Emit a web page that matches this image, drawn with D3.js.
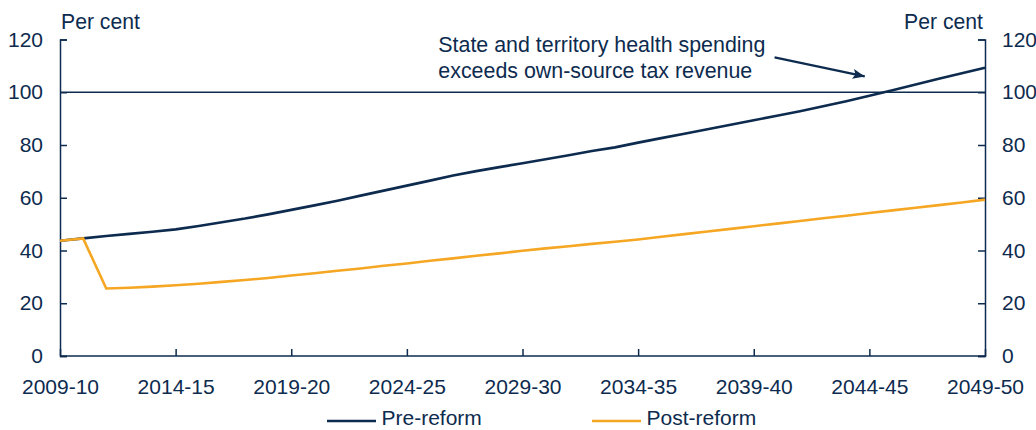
<!DOCTYPE html>
<html>
<head>
<meta charset="utf-8">
<script src="https://cdn.jsdelivr.net/npm/d3@7"></script>
<style>
  body { margin: 0; background: #fff; }
  svg { display: block; font-family: "Liberation Sans", Arial, sans-serif; }
  text { fill: #0d2b4e; }
</style>
</head>
<body>
<svg width="1036" height="430"></svg>
<script>
const years = [
    "2009-10", "2010-11", "2011-12", "2012-13", "2013-14", "2014-15", "2015-16", "2016-17",
    "2017-18", "2018-19", "2019-20", "2020-21", "2021-22", "2022-23", "2023-24", "2024-25",
    "2025-26", "2026-27", "2027-28", "2028-29", "2029-30", "2030-31", "2031-32", "2032-33",
    "2033-34", "2034-35", "2035-36", "2036-37", "2037-38", "2038-39", "2039-40", "2040-41",
    "2041-42", "2042-43", "2043-44", "2044-45", "2045-46", "2046-47", "2047-48", "2048-49",
    "2049-50"];
const preReform = [
    43.7, 44.6, 45.5, 46.3, 47.1, 48.0, 49.3, 50.7, 52.1, 53.7,
    55.4, 57.1, 58.9, 60.8, 62.7, 64.6, 66.5, 68.4, 70.1, 71.6,
    73.1, 74.6, 76.1, 77.7, 79.1, 80.9, 82.6, 84.3, 86.0, 87.7,
    89.4, 91.1, 92.8, 94.7, 96.6, 98.7, 100.8, 102.9, 105.1, 107.2,
    109.3];
const postReform = [
    43.7, 44.6, 25.6, 25.9, 26.3, 26.8, 27.4, 28.1, 28.8, 29.6,
    30.5, 31.4, 32.3, 33.2, 34.2, 35.1, 36.1, 37.0, 38.0, 38.9,
    39.9, 40.8, 41.6, 42.5, 43.3, 44.2, 45.2, 46.2, 47.2, 48.2,
    49.2, 50.2, 51.2, 52.2, 53.2, 54.2, 55.2, 56.2, 57.2, 58.2,
    59.3];
const xTickLabels = ["2009-10", "2014-15", "2019-20", "2024-25", "2029-30",
    "2034-35", "2039-40", "2044-45", "2049-50"];
const yTicks = [0, 20, 40, 60, 80, 100, 120];
const seriesNames = ["Pre-reform", "Post-reform"];
const noteLines = ["State and territory health spending", "exceeds own-source tax revenue"];
// annotation anchor in data space: [year index, per cent]
const noteText = [16.36, 115.4];
const noteArrow = [[30.9, 113.2], [34.8, 106.0]];

const navy = "#0d2b4e";
const orange = "#f5a623";
const margin = { top: 39.5, right: 51, bottom: 74, left: 60 };
const width = 1036, height = 430;

const svg = d3.select("svg");
const x = d3.scaleLinear([0, years.length - 1], [margin.left, width - margin.right]);
const y = d3.scaleLinear([0, 120], [height - margin.bottom, margin.top]);

const tickIdx = xTickLabels.map(l => years.indexOf(l));

const styleAxis = g => {
    g.select(".domain").attr("stroke", navy).attr("stroke-width", 1.5);
    g.selectAll(".tick line").attr("stroke", navy).attr("stroke-width", 1.5);
    g.selectAll(".tick text").attr("font-size", 21).attr("fill", navy);
};

svg.append("g")
    .attr("transform", `translate(${margin.left},0)`)
    .call(d3.axisLeft(y).tickValues(yTicks).tickSizeInner(-7).tickSizeOuter(-7).tickPadding(17))
    .call(styleAxis);

svg.append("g")
    .attr("transform", `translate(${width - margin.right},0)`)
    .call(d3.axisRight(y).tickValues(yTicks).tickSizeInner(-7).tickSizeOuter(-7).tickPadding(17))
    .call(styleAxis);

// 100 per cent reference line
svg.append("line")
    .attr("x1", x(0)).attr("x2", x(years.length - 1))
    .attr("y1", y(100)).attr("y2", y(100))
    .attr("stroke", navy).attr("stroke-width", 1.3);

const line = d3.line().x((v, i) => x(i)).y(v => y(v));

svg.append("path")
    .attr("d", line(preReform))
    .attr("fill", "none").attr("stroke", navy).attr("stroke-width", 2.6);
svg.append("path")
    .attr("d", line(postReform))
    .attr("fill", "none").attr("stroke", orange).attr("stroke-width", 2.6);

svg.append("g")
    .attr("transform", `translate(0,${y(0)})`)
    .call(d3.axisBottom(x).tickValues(tickIdx).tickFormat((d, i) => xTickLabels[i])
        .tickSizeInner(-7).tickSizeOuter(0).tickPadding(23))
    .call(styleAxis)
    .call(g => g.select(".domain").attr("d", `M${x(0)},0H${x(years.length - 1)}`));

// unit labels
svg.append("text").attr("x", x(0) + 1).attr("y", 29).attr("font-size", 21.2).text("Per cent");
svg.append("text").attr("x", x(years.length - 1) - 2).attr("y", 29).attr("font-size", 21.2)
    .attr("text-anchor", "end").text("Per cent");

// annotation
svg.append("text")
    .attr("x", x(noteText[0])).attr("y", y(noteText[1]))
    .attr("font-size", 21.4)
    .selectAll("tspan").data(noteLines).join("tspan")
    .attr("x", x(noteText[0])).attr("dy", (d, i) => i ? 26.6 : 0)
    .text(d => d);

svg.append("defs").append("marker")
    .attr("id", "head").attr("viewBox", "0 0 12 10")
    .attr("refX", 12).attr("refY", 5)
    .attr("markerWidth", 12).attr("markerHeight", 10)
    .attr("markerUnits", "userSpaceOnUse").attr("orient", "auto")
    .append("path").attr("d", "M0,0L12,5L0,10L2.5,5Z").attr("fill", navy);

svg.append("line")
    .attr("x1", x(noteArrow[0][0])).attr("y1", y(noteArrow[0][1]))
    .attr("x2", x(noteArrow[1][0])).attr("y2", y(noteArrow[1][1]))
    .attr("stroke", navy).attr("stroke-width", 2.2)
    .attr("marker-end", "url(#head)");

// legend
const legend = svg.append("g").selectAll("g")
    .data(seriesNames).join("g")
    .attr("transform", (d, i) => `translate(${[327, 592][i]},421)`);
legend.append("line").attr("x1", 0).attr("x2", 49)
    .attr("stroke", (d, i) => i ? orange : navy).attr("stroke-width", 2.6);
legend.append("text").attr("x", 54.5).attr("y", 4.3).attr("font-size", 21).text(d => d);
</script>
</body>
</html>
